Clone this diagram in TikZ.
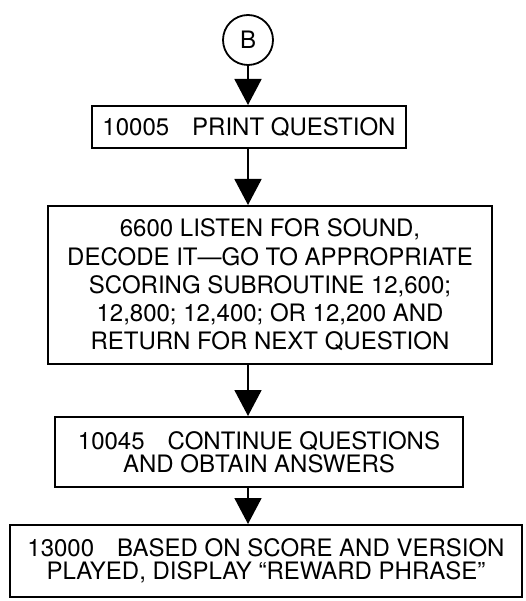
\documentclass[tikz,border=0pt]{standalone}
\usepackage{fontspec}
\setmainfont{TeX Gyre Heros}
\usetikzlibrary{arrows.meta, positioning}
\tikzset{
    step_box/.style={
        rectangle, draw=black, line width=2pt, inner sep=0pt,
        align=center, font=\fontsize{24}{23.5}\selectfont
    },
    conn_circle/.style={
        circle, draw=black, line width=1.8pt, minimum size=50pt, inner sep=0pt,
        font=\fontsize{24}{24}\selectfont
    },
    flow_arrow/.style={
        -{Triangle[width=27pt, length=26pt]}, draw=black, line width=1.8pt
    }
}
\newcommand{\numgap}{\hspace{23pt}}

\begin{document}
\begin{tikzpicture}[x=1pt, y=1pt]
    \useasboundingbox (0, 0) rectangle (526, -601);

    % Entry connector
    \node[conn_circle] (conn_b) at (248, -40) {B};

    % Steps
    \node[step_box, minimum width=314pt, minimum height=42pt] (print_q) at (249, -127) {10005\numgap PRINT QUESTION};
    \node[step_box, minimum width=444pt, minimum height=158pt, font=\fontsize{24}{28.3}\selectfont] (listen) at (270, -285) {6600 LISTEN FOR SOUND,\\DECODE IT—GO TO APPROPRIATE\\SCORING SUBROUTINE 12,600;\\12,800; 12,400; OR 12,200 AND\\RETURN FOR NEXT QUESTION};
    \node[step_box, minimum width=408pt, minimum height=70pt] (cont_q) at (259, -452) {10045\numgap CONTINUE QUESTIONS\\AND OBTAIN ANSWERS};
    \node[step_box, minimum width=512pt, minimum height=72pt] (reward) at (266, -561) {13000\numgap BASED ON SCORE AND VERSION\\PLAYED, DISPLAY “REWARD PHRASE”};

    % Connectors
    \draw[flow_arrow] (conn_b.south) -- (conn_b.south |- print_q.north);
    \draw[flow_arrow] (conn_b.south |- print_q.south) -- (conn_b.south |- listen.north);
    \draw[flow_arrow] (conn_b.south |- listen.south) -- (conn_b.south |- cont_q.north);
    \draw[flow_arrow] (conn_b.south |- cont_q.south) -- (conn_b.south |- reward.north);
\end{tikzpicture}
\end{document}
